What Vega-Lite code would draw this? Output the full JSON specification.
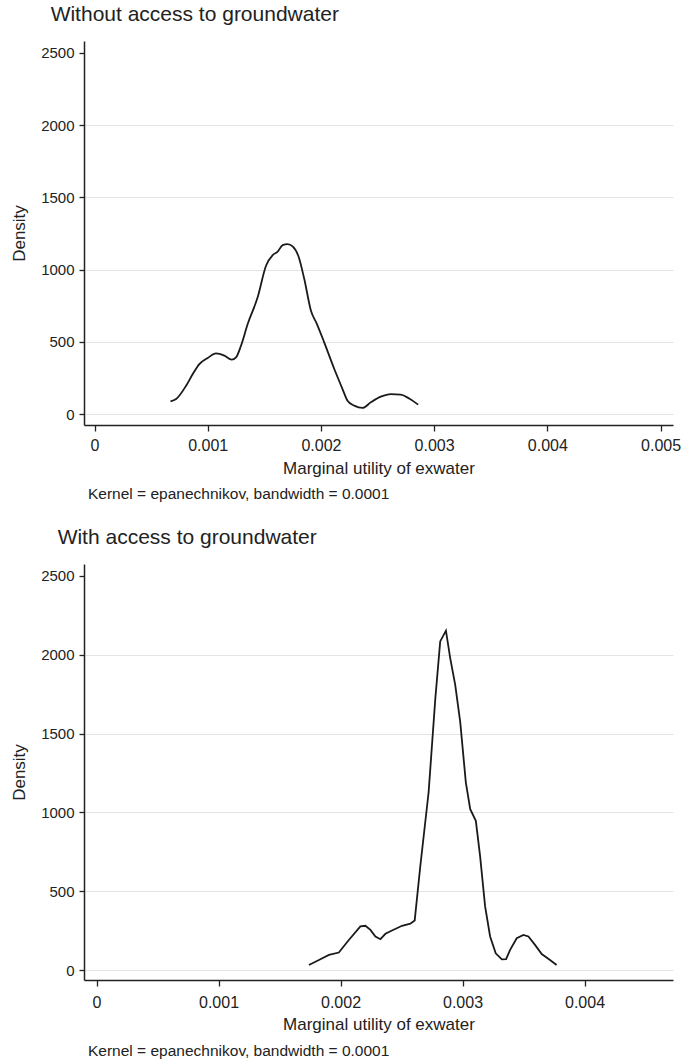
{
  "$schema": "https://vega.github.io/schema/vega-lite/v6.json",
  "padding": {"left": 10, "top": 4, "right": 2, "bottom": 0},
  "config": {
    "font": "Liberation Sans",
    "view": {"stroke": null},
    "axis": {
      "labelFont": "Liberation Sans", "titleFont": "Liberation Sans",
      "labelColor": "#222", "titleColor": "#222", "domainColor": "#222", "tickColor": "#222",
      "titleFontWeight": "normal", "labelFontSize": 16, "titleFontSize": 17,
      "domainWidth": 1.5, "tickWidth": 1.3, "tickSize": 6
    },
    "title": {"font": "Liberation Sans", "fontWeight": "normal", "color": "#222"},
    "concat": {"spacing": 24}
  },
  "datasets": {
    "without": [
      {"mu": 0.000671, "density": 88},
      {"mu": 0.000721, "density": 104},
      {"mu": 0.000809, "density": 196},
      {"mu": 0.000868, "density": 277},
      {"mu": 0.000926, "density": 346},
      {"mu": 0.001000, "density": 388},
      {"mu": 0.001074, "density": 420},
      {"mu": 0.001147, "density": 404},
      {"mu": 0.001212, "density": 376},
      {"mu": 0.001250, "density": 392},
      {"mu": 0.001294, "density": 473},
      {"mu": 0.001353, "density": 623},
      {"mu": 0.001441, "density": 808},
      {"mu": 0.001515, "density": 1027},
      {"mu": 0.001574, "density": 1101},
      {"mu": 0.001618, "density": 1124},
      {"mu": 0.001662, "density": 1170},
      {"mu": 0.001706, "density": 1177},
      {"mu": 0.001750, "density": 1161},
      {"mu": 0.001800, "density": 1096},
      {"mu": 0.001853, "density": 935},
      {"mu": 0.001912, "density": 715},
      {"mu": 0.001965, "density": 623},
      {"mu": 0.002029, "density": 496},
      {"mu": 0.002118, "density": 312},
      {"mu": 0.002191, "density": 173},
      {"mu": 0.002235, "density": 92},
      {"mu": 0.002294, "density": 58},
      {"mu": 0.002368, "density": 42},
      {"mu": 0.002441, "density": 81},
      {"mu": 0.002529, "density": 120},
      {"mu": 0.002618, "density": 138},
      {"mu": 0.002706, "density": 134},
      {"mu": 0.002779, "density": 108},
      {"mu": 0.002859, "density": 65}
    ],
    "with": [
      {"mu": 0.001741, "density": 32},
      {"mu": 0.001823, "density": 64},
      {"mu": 0.001905, "density": 96},
      {"mu": 0.001986, "density": 111},
      {"mu": 0.002068, "density": 191},
      {"mu": 0.002163, "density": 277},
      {"mu": 0.002204, "density": 281},
      {"mu": 0.002245, "density": 255},
      {"mu": 0.002286, "density": 213},
      {"mu": 0.002327, "density": 196},
      {"mu": 0.002368, "density": 230},
      {"mu": 0.002422, "density": 251},
      {"mu": 0.002504, "density": 281},
      {"mu": 0.002572, "density": 294},
      {"mu": 0.002608, "density": 315},
      {"mu": 0.002654, "density": 660},
      {"mu": 0.002722, "density": 1128},
      {"mu": 0.002777, "density": 1723},
      {"mu": 0.002817, "density": 2085},
      {"mu": 0.002864, "density": 2153},
      {"mu": 0.002899, "density": 1979},
      {"mu": 0.002940, "density": 1809},
      {"mu": 0.002981, "density": 1574},
      {"mu": 0.003027, "density": 1191},
      {"mu": 0.003063, "density": 1021},
      {"mu": 0.003109, "density": 947},
      {"mu": 0.003144, "density": 723},
      {"mu": 0.003185, "density": 404},
      {"mu": 0.003226, "density": 213},
      {"mu": 0.003272, "density": 106},
      {"mu": 0.003322, "density": 68},
      {"mu": 0.003357, "density": 70},
      {"mu": 0.003390, "density": 128},
      {"mu": 0.003444, "density": 202},
      {"mu": 0.003499, "density": 223},
      {"mu": 0.003540, "density": 213},
      {"mu": 0.003594, "density": 160},
      {"mu": 0.003649, "density": 102},
      {"mu": 0.003717, "density": 64},
      {"mu": 0.003771, "density": 32}
    ]
  },
  "vconcat": [
    {
      "title": {"text": "Without access to groundwater", "anchor": "start", "frame": "bounds", "fontSize": 21, "dx": 40, "offset": 16},
      "vconcat": [
        {
          "width": 589,
          "height": 384,
          "data": {"name": "without"},
          "title": {"text": "Kernel = epanechnikov, bandwidth = 0.0001", "orient": "bottom", "anchor": "start", "frame": "group", "fontSize": 15.5, "dx": 4, "offset": 11},
          "mark": {"type": "line", "color": "#1a1a1a", "strokeWidth": 1.8, "interpolate": "monotone"},
          "encoding": {
            "x": {
              "field": "mu", "type": "quantitative",
              "scale": {"domain": [-0.0000928, 0.00511], "nice": false, "zero": false},
              "axis": {"values": [0, 0.001, 0.002, 0.003, 0.004, 0.005], "format": ".3~f", "grid": false, "title": "Marginal utility of exwater", "labelPadding": 6, "titlePadding": 7}
            },
            "y": {
              "field": "density", "type": "quantitative",
              "scale": {"domain": [-76, 2583], "nice": false, "zero": false},
              "axis": {"values": [0, 500, 1000, 1500, 2000, 2500], "format": "d", "labelFontSize": 15, "title": "Density", "titlePadding": 12, "gridColor": "#e4e4e4", "gridOpacity": {"condition": {"test": "datum.value === 2500", "value": 0}, "value": 1}, "labelPadding": 5, "tickSize": 5}
            }
          }
        }
      ]
    },
    {
      "title": {"text": "With access to groundwater", "anchor": "start", "frame": "bounds", "fontSize": 21, "dx": 47, "offset": 16},
      "vconcat": [
        {
          "width": 589,
          "height": 416,
          "data": {"name": "with"},
          "title": {"text": "Kernel = epanechnikov, bandwidth = 0.0001", "orient": "bottom", "anchor": "start", "frame": "group", "fontSize": 15.5, "dx": 4, "offset": 12},
          "mark": {"type": "line", "color": "#1a1a1a", "strokeWidth": 1.8, "interpolate": "linear"},
          "encoding": {
            "x": {
              "field": "mu", "type": "quantitative",
              "scale": {"domain": [-0.0001025, 0.004725], "nice": false, "zero": false},
              "axis": {"values": [0, 0.001, 0.002, 0.003, 0.004], "format": ".3~f", "grid": false, "title": "Marginal utility of exwater", "labelPadding": 8, "titlePadding": 6}
            },
            "y": {
              "field": "density", "type": "quantitative",
              "scale": {"domain": [-63, 2576], "nice": false, "zero": false},
              "axis": {"values": [0, 500, 1000, 1500, 2000, 2500], "format": "d", "labelFontSize": 15, "title": "Density", "titlePadding": 12, "gridColor": "#e4e4e4", "gridOpacity": {"condition": {"test": "datum.value === 2500", "value": 0}, "value": 1}, "labelPadding": 5, "tickSize": 5}
            }
          }
        }
      ]
    }
  ]
}
